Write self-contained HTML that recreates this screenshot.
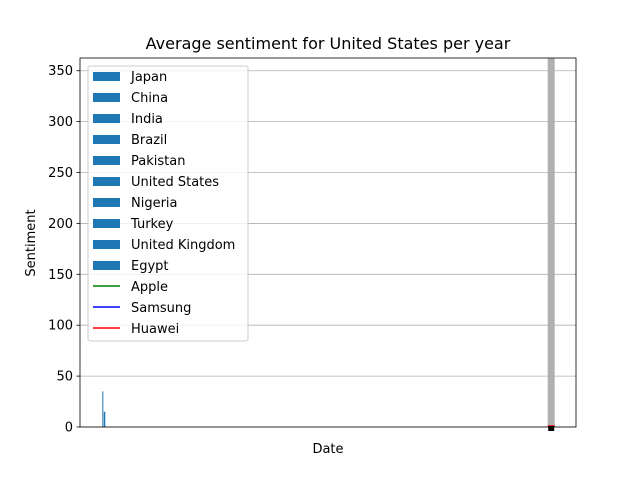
<!DOCTYPE html>
<html><head><meta charset="utf-8"><style>
body{margin:0;background:#fff;font-family:"Liberation Sans","DejaVu Sans",sans-serif}
svg text{font-family:"DejaVu Sans","Liberation Sans",sans-serif}
</style></head><body>
<svg id="c" width="640" height="480" xmlns="http://www.w3.org/2000/svg">
<rect width="640" height="480" fill="#fff"/>
</svg>
<script>
const yTicks=[0,50,100,150,200,250,300,350];
const countryNames=["Japan","China","India","Brazil","Pakistan","United States","Nigeria","Turkey","United Kingdom","Egypt"];
const lineNames=["Apple","Samsung","Huawei"];
const lineColors=["green","blue","red"];
const barXs=[0.045,0.048];
const barValues=[35,15];
const grayX=[0.95];
const grayValue=[362];
const redValue=[1];
const L=80,R=576,T=58,B=427,YMAX=362.5;
const sx=v=>L+v*(R-L);
const sy=v=>B-v*(B-T)/YMAX;
const svg=document.getElementById('c');
const NS='http://www.w3.org/2000/svg';
function mk(tag,attrs,parent){const e=document.createElementNS(NS,tag);for(const k in attrs)e.setAttribute(k,attrs[k]);(parent||svg).appendChild(e);return e;}
// grid
yTicks.forEach(t=>{
 const g=mk('line',{x1:L,x2:R,y1:sy(t),y2:sy(t),stroke:'#b0b0b0','stroke-width':0.8});
 
 
 const tk=mk('line',{x1:L-3.5,x2:L,y1:sy(t),y2:sy(t),stroke:'#000','stroke-width':0.8});
 
 
 const tx=mk('text',{x:L-7,y:sy(t)+4.5,'text-anchor':'end','font-size':13});
 tx.textContent=t;
 
 
});
// gray bar
grayX.forEach((x,i)=>{
 const r=mk('rect',{x:sx(x)-3.5,y:sy(grayValue[i]),width:7,height:B-sy(grayValue[i]),fill:'#b0b0b0'});
 
 
 const rl=mk('line',{x1:sx(x)-3.5,x2:sx(x)+3.5,y1:sy(redValue[i]),y2:sy(redValue[i]),stroke:'red','stroke-width':1.5});
 
 
 const m=mk('rect',{x:sx(x)-3,y:B-1,width:6,height:5,fill:'#000'});
 
 
});
// small bars
barXs.forEach((x,i)=>{
 const r=mk('rect',{x:sx(x),y:sy(barValues[i]),width:i?1.5:1,height:B-sy(barValues[i]),fill:'#1f77b4'});
 
 
});
// axes frame
const fr=mk('rect',{x:L,y:T,width:R-L,height:B-T,fill:'none',stroke:'#000','stroke-width':0.8});


const title=mk('text',{x:328,y:49,'text-anchor':'middle','font-size':16});
title.textContent='Average sentiment for United States per year';


const xl=mk('text',{x:328,y:453,'text-anchor':'middle','font-size':13});
xl.textContent='Date';


const yl=mk('text',{x:0,y:0,'text-anchor':'middle','font-size':13,transform:'translate(35,243) rotate(-90)'});
yl.textContent='Sentiment';


// legend
const lg=mk('g',{});


const lb=mk('rect',{x:88,y:66,width:160,height:275,rx:2,fill:'#fff','fill-opacity':0.8,stroke:'#ccc'},lg);


const all=countryNames.map(n=>({n,t:'bar'})).concat(lineNames.map((n,i)=>({n,t:'line',c:lineColors[i]})));
all.forEach((e,i)=>{
 const y=76+i*21;
 const g=mk('g',{},lg);
 
 
 if(e.t==='bar')mk('rect',{x:93,y:y-4,width:27,height:9,fill:'#1f77b4'},g);
 else mk('line',{x1:93,x2:120,y1:y,y2:y,stroke:e.c,'stroke-width':1.5},g);
 const t=mk('text',{x:131,y:y+5,'font-size':13},g);
 t.textContent=e.n;
});
</script>
</body></html>
